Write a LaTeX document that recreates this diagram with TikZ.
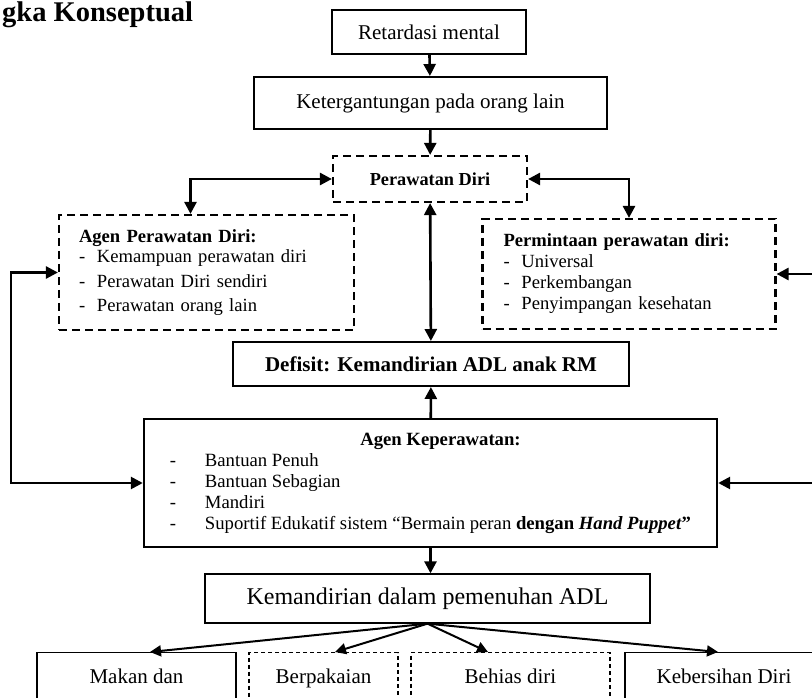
\documentclass[tikz,border=0pt]{standalone}
\usepackage{fontspec}
\setmainfont{Liberation Serif}
\usetikzlibrary{arrows.meta,calc}
\newcommand{\fsz}[2][]{\fontsize{#2}{#2}\selectfont}
\tikzset{
    box/.style={draw, line width=2pt, inner sep=0pt, align=center},
    dbox/.style={box, line width=2.2pt, dash pattern=on 8pt off 5pt},
    thinbox/.style={draw, line width=1.3pt, inner sep=0pt, align=center},
    lowbox/.style={thinbox, anchor=north, text height=16pt, text depth=50pt, inner ysep=15pt, font=\fsz{21}},
    tip/.tip={Triangle[length=12pt,width=12pt]},
    arr/.style={line width=2.6pt, -tip},
    dblarr/.style={line width=2.6pt, tip-tip},
    fan/.style={line width=2pt, -{Triangle[length=11pt,width=11pt]}}
}
\begin{document}
\begin{tikzpicture}[x=1pt,y=-1pt]
    \useasboundingbox (0,0) rectangle (812,698);
    \clip (0,0) rectangle (812,698);
    \node[anchor=base west, inner sep=0pt, font=\bfseries\fsz{28.5}] (ttl) at (2,21.5) {gka Konseptual};
    \node[box, minimum width=194pt, minimum height=44pt, font=\fsz{21}] (ret) at (429,32) {Retardasi mental};
    \node[box, minimum width=353pt, minimum height=52pt, font=\fsz{21}] (ktg) at (430.5,103) {Ketergantungan pada orang lain};
    \node[dbox, minimum width=194pt, minimum height=46pt, font=\bfseries\fsz{18.3}] (pd) at (430,179) {Perawatan Diri};
    \node[dbox, minimum height=115pt, text width=255pt, inner xsep=20pt, align=left, font=\fontsize{18.6}{24.5}\selectfont] (apd) at (206.5,272.5)
        {\textbf{Agen Perawatan Diri:}\\[-4pt]
         \makebox[18pt][l]{-}Kemampuan perawatan diri\\
         \makebox[18pt][l]{-}Perawatan Diri sendiri\\
         \makebox[18pt][l]{-}Perawatan orang lain};
    \node[dbox, minimum height=110pt, text width=251pt, inner xsep=21pt, align=left, font=\fontsize{18.6}{21}\selectfont] (ppd) at (629,274)
        {\textbf{Permintaan perawatan diri:}\\
         \makebox[18pt][l]{-}Universal\\
         \makebox[18pt][l]{-}Perkembangan\\
         \makebox[18pt][l]{-}Penyimpangan kesehatan};
    \node[box, minimum width=396pt, minimum height=44pt, font=\bfseries\fsz{21}] (def) at (431,364) {Defisit: Kemandirian ADL anak RM};
    \node[box, line width=2.4pt, minimum width=573pt, minimum height=128pt, font=\fontsize{18.7}{21}\selectfont] (ak) at (430.5,483)
        {\begin{tabular}{@{}p{35pt}@{}l@{}}
         \multicolumn{2}{@{}c@{}}{\hspace{20pt}\textbf{Agen Keperawatan:}}\\
         - & Bantuan Penuh\\
         - & Bantuan Sebagian\\
         - & Mandiri\\
         - & Suportif Edukatif sistem “Bermain peran \textbf{dengan \textit{Hand Puppet}”}
         \end{tabular}};
    \node[thinbox, minimum width=445pt, minimum height=49pt, font=\fsz{24}] (kmd) at (427.5,598.5) {Kemandirian dalam pemenuhan ADL};
    \node[lowbox, minimum width=199pt] (mkn) at (136.5,652) {Makan dan};
    \node[lowbox, line width=1.1pt, dash pattern=on 4pt off 3pt, minimum width=149pt] (bpk) at (323.5,652) {Berpakaian};
    \node[lowbox, line width=1.1pt, dash pattern=on 4pt off 3pt, minimum width=199pt] (bhs) at (510.5,652) {Behias diri};
    \node[lowbox, minimum width=198pt] (kbr) at (724,652) {Kebersihan Diri};
    \coordinate (lrail) at (11,0);
    \coordinate (rrail) at (834,0);
    \draw[arr] (ret) -- (ktg);
    \draw[arr] (ktg) -- (pd);
    \draw[dblarr] ($(apd.north)+(-16,0)$) |- (pd.west);
    \draw[dblarr] (pd.east) -| (ppd.north);
    \draw[dblarr] (pd) -- (def);
    \draw[arr] (ak) -- (def);
    \draw[arr] (ak.south) -- (ak.south |- kmd.north);
    \draw[dblarr] (apd.west) -- (apd.west -| lrail) |- (ak.west);
    \draw[arr] (ppd.east -| rrail) -- (ppd.east);
    \draw[arr] (ppd.east -| rrail) |- (ak.east);
    \draw[fan] (kmd.south) -- ($(mkn.north)+(13.5,0)$);
    \draw[fan] (kmd.south) -- ($(bpk.north)+(11.5,0)$);
    \draw[fan] (kmd.south) -- ($(bhs.north)+(-22.5,0)$);
    \draw[fan] (kmd.south) -- ($(kbr.north)+(-6,0)$);
\end{tikzpicture}
\end{document}
